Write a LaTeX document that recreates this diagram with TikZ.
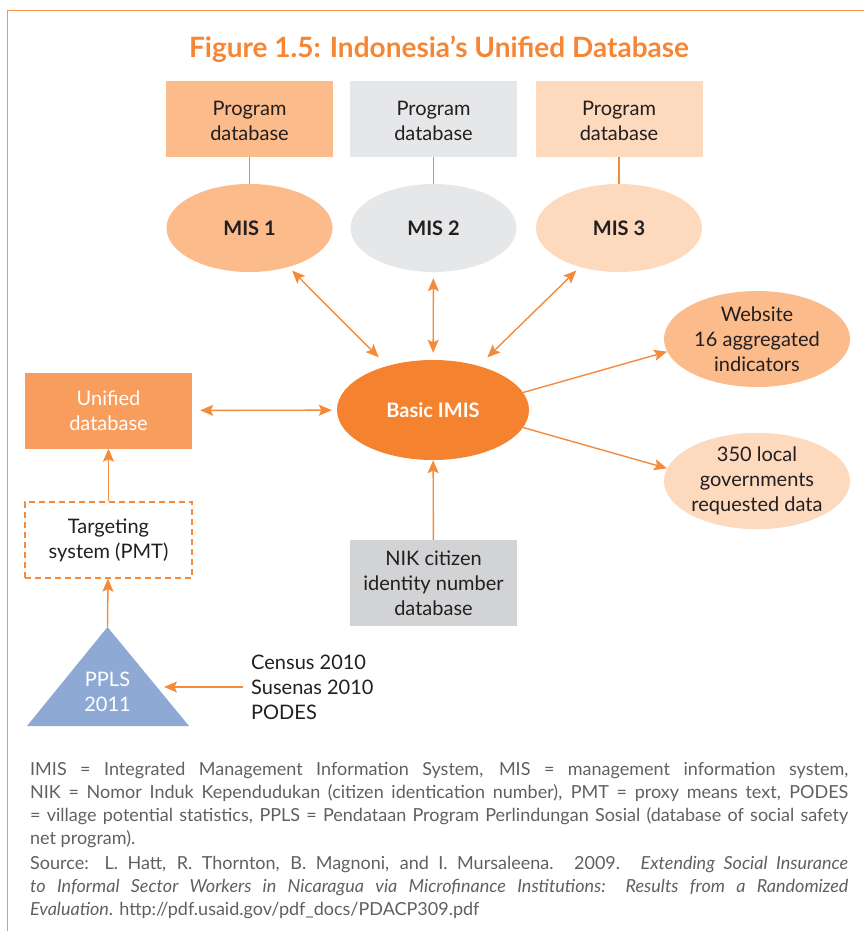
\documentclass[tikz,border=0pt]{standalone}
\usepackage{fontspec}
\setmainfont{Lato}
\newfontfamily\footfont{Lato}
\usetikzlibrary{arrows.meta,shapes.geometric}
\definecolor{frameor}{HTML}{F79552}
\definecolor{titleor}{HTML}{F58634}
\definecolor{arrowor}{HTML}{F58A3A}
\definecolor{deepor}{HTML}{F4822F}
\definecolor{midor}{HTML}{F89D5C}
\definecolor{lightor}{HTML}{FBBB8A}
\definecolor{paleor}{HTML}{FDD9BD}
\definecolor{lgray}{HTML}{E6E7E8}
\definecolor{mgray}{HTML}{D1D3D4}
\definecolor{triblue}{HTML}{8FA9D5}
\definecolor{txt}{HTML}{231F20}
\definecolor{foottxt}{HTML}{5F6062}
\begin{document}
\begin{tikzpicture}[x=1pt,y=-1pt,
  nodefont/.style={font=\fontsize{20}{25}\selectfont, text=txt},
  pbox/.style={nodefont, minimum width=167pt, minimum height=76pt, inner sep=0pt, align=center},
  misell/.style={ellipse, minimum width=166pt, minimum height=88pt, inner sep=0pt, align=center,
    font=\fontsize{20}{25}\selectfont\bfseries, text=txt},
  outell/.style={ellipse, nodefont, minimum width=186pt, minimum height=96pt, inner sep=0pt, align=center},
  tip/.tip={Stealth[length=13pt,width=11pt,inset=2.5pt]},
  conn/.style={draw=arrowor, line width=1.4pt},
  arr/.style={conn, -tip},
  dbl/.style={conn, tip-tip},
]
\useasboundingbox (0,0) rectangle (864,931);
% frame
\draw[frameor, line width=1.6pt] (7.5,931) -- (7.5,10.5) -- (864,10.5);
% title
\node[font=\fontsize{28}{32}\selectfont\bfseries, text=titleor] (title) at (439,49) {Figure 1.5: Indonesia’s Unified Database};

% program databases
\node[pbox, fill=lightor] (db1) at (249.5,119) {\strut Program\\database};
\node[pbox, fill=lgray] (db2) at (433.5,119) {\strut Program\\database};
\node[pbox, fill=paleor] (db3) at (619,119) {\strut Program\\database};

% MIS ellipses
\node[misell, fill=lightor] (mis1) at (249.5,228) {MIS 1};
\node[misell, fill=lgray] (mis2) at (433.5,228) {MIS 2};
\node[misell, fill=paleor] (mis3) at (619,228) {MIS 3};

\draw[conn, line width=1.3pt] (db1) -- (mis1);
\draw[conn, line width=1.3pt] (db2) -- (mis2);
\draw[conn, line width=1.3pt] (db3) -- (mis3);

% Basic IMIS
\node[ellipse, fill=deepor, minimum width=192pt, minimum height=100pt, inner sep=0pt,
  font=\fontsize{20}{25}\selectfont\bfseries, text=white] (basic) at (433,410) {Basic IMIS};

% outputs
\node[outell, fill=lightor] (web) at (757,339) {Website\\16 aggregated\\indicators};
\node[outell, fill=paleor] (loc) at (757,481) {350 local\\governments\\requested data};

% left column
\node[pbox, fill=midor, text=white] (uni) at (108.5,410.5) {Unified\\database};
\node[pbox, draw=arrowor, dashed, dash pattern=on 6pt off 4pt, line width=1.2pt] (tgt) at (108.5,540) {Targeting\\system (PMT)};

% triangle
\coordinate (apex) at (107.5,627);
\coordinate (triL) at (27,726);
\coordinate (triR) at (189,726);
\fill[triblue] (apex) -- (triR) -- (triL) -- cycle;
\node[nodefont, text=white, align=center] (ppls) at (107.5,692) {PPLS\\2011};
\coordinate (triside) at (164,687);

% census
\node[nodefont, align=left, anchor=west, inner sep=0pt] (census) at (251,687) {Census 2010\\Susenas 2010\\PODES};

% NIK
\node[pbox, fill=mgray, minimum height=86pt] (nik) at (433.5,583) {NIK citizen\\identity number\\database};

% connectors
\draw[dbl, shorten <=5pt, shorten >=12pt] (mis1.-45) -- (basic.136);
\draw[dbl, shorten <=6pt, shorten >=7pt] (mis2) -- (basic);
\draw[dbl, shorten <=5pt, shorten >=12pt] (mis3.-135) -- (basic.44);
\draw[dbl, shorten <=8pt, shorten >=5pt] (uni) -- (basic);
\draw[arr] (basic.11) -- (web.188);
\draw[arr] (basic.-11) -- (loc.172);
\draw[arr] (nik) -- (basic);
\draw[arr] (tgt) -- (uni);
\draw[arr] (apex) -- (tgt);
\draw[arr, shorten <=8pt] (census.west) -- (triside);

% footer
\node[anchor=north west, text width=818pt, align=justify, inner sep=0pt,
  font=\footfont\fontsize{18}{23}\selectfont, text=foottxt] (foot) at (30,762)
{IMIS = Integrated Management Information System, MIS = management information system,\linebreak
NIK = Nomor Induk Kependudukan (citizen identication number), PMT = proxy means text, PODES\linebreak
= village potential statistics, PPLS = Pendataan Program Perlindungan Sosial (database of social safety\linebreak
net program).\par\vspace{2pt}
Source: L. Hatt, R. Thornton, B. Magnoni, and I. Mursaleena. 2009. \textit{Extending Social Insurance\linebreak
to Informal Sector Workers in Nicaragua via Microfinance Institutions: Results from a Randomized\linebreak
Evaluation}. http://pdf.usaid.gov/pdf\_docs/PDACP309.pdf};
\end{tikzpicture}
\end{document}
